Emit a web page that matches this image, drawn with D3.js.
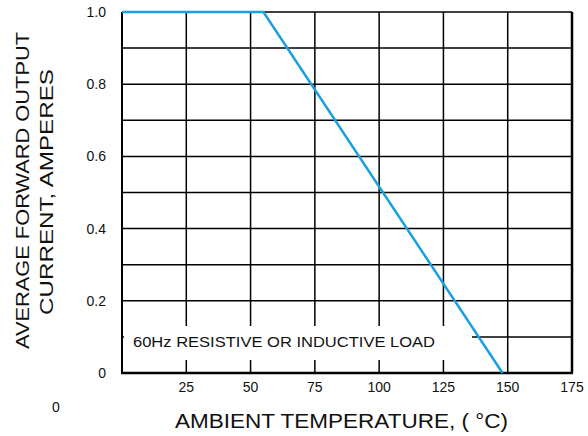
<!DOCTYPE html>
<html>
<head>
<meta charset="utf-8">
<script src="https://cdn.jsdelivr.net/npm/d3@7"></script>
<style>
  body { margin: 0; background: #fff; }
  svg text { font-family: "Liberation Sans", Arial, sans-serif; fill: #111; }
</style>
</head>
<body>
<svg id="chart" width="588" height="436"></svg>
<script>
// derating curve
var tempPts = [0, 55, 148];
var currentPts = [1.0, 1.0, 0.0];
var xTicks = [25, 50, 75, 100, 125, 150, 175];
var yTicks = [0, 0.2, 0.4, 0.6, 0.8, 1.0];
var yGrid = [0.1, 0.2, 0.3, 0.4, 0.5, 0.6, 0.7, 0.8, 0.9, 1.0];
var noteText = "60Hz RESISTIVE OR INDUCTIVE LOAD";

var svg = d3.select("#chart");
var x = d3.scaleLinear().domain([0, 175]).range([122, 572]);
var y = d3.scaleLinear().domain([0, 1.0]).range([373, 12]);

// grid
var grid = svg.append("g");
grid.selectAll("line.v").data(xTicks).enter().append("line")
    .attr("x1", d => x(d)).attr("x2", d => x(d))
    .attr("y1", y(1)).attr("y2", y(0))
    .attr("stroke", "#000").attr("stroke-width", d => d == 175 ? 2.5 : 1.5);
grid.selectAll("line.h").data(yGrid).enter().append("line")
    .attr("x1", x(0)).attr("x2", x(175))
    .attr("y1", d => y(d)).attr("y2", d => y(d))
    .attr("stroke", "#000").attr("stroke-width", 1.5);
// left + bottom frame
svg.append("line").attr("x1", x(0)).attr("x2", x(0)).attr("y1", y(1)).attr("y2", y(0))
    .attr("stroke", "#000").attr("stroke-width", 2);
svg.append("line").attr("x1", x(0) - 1).attr("x2", x(175) + 1).attr("y1", y(0)).attr("y2", y(0))
    .attr("stroke", "#000").attr("stroke-width", 2.5);

// note box, white background hides the grid behind it
svg.append("rect").attr("x", x(0) + 2).attr("y", 326)
    .attr("width", 472 - x(0) - 2).attr("height", 34).attr("fill", "#fff");
svg.append("text").attr("x", 133).attr("y", 347)
    .attr("font-size", 14).attr("textLength", 302).attr("lengthAdjust", "spacingAndGlyphs")
    .text(noteText);

// curve
var line = d3.line().x(d => x(d[0])).y(d => y(d[1]));
svg.append("path")
    .datum(tempPts.map((t, i) => [t, currentPts[i]]))
    .attr("d", line).attr("fill", "none")
    .attr("stroke", "#1a9fe0").attr("stroke-width", 2.5);

// tick labels
svg.selectAll("text.xt").data(xTicks).enter().append("text")
    .attr("x", d => x(d)).attr("y", 392).attr("text-anchor", "middle")
    .attr("font-size", 14).text(d => d);
svg.selectAll("text.yt").data(yTicks).enter().append("text")
    .attr("x", 106).attr("y", d => y(d) + 5).attr("text-anchor", "end")
    .attr("font-size", 14).text(d => d == 0 ? "0" : d.toFixed(1));
svg.append("text").attr("x", 56).attr("y", 412).attr("text-anchor", "middle")
    .attr("font-size", 14).text("0");

// axis titles
svg.append("text").attr("x", 175).attr("y", 428)
    .attr("font-size", 19.5).attr("textLength", 333).attr("lengthAdjust", "spacingAndGlyphs")
    .text("AMBIENT TEMPERATURE, ( \u00B0C)");
var yt = svg.append("text").attr("transform", "translate(29,191) rotate(-90)")
    .attr("text-anchor", "middle").attr("font-size", 19);
yt.append("tspan").attr("x", -158).attr("y", 0)
    .attr("textLength", 317).attr("lengthAdjust", "spacingAndGlyphs")
    .attr("text-anchor", "start").text("AVERAGE FORWARD OUTPUT");
yt.append("tspan").attr("x", -124).attr("y", 24)
    .attr("textLength", 246).attr("lengthAdjust", "spacingAndGlyphs")
    .attr("text-anchor", "start").text("CURRENT, AMPERES");
</script>
</body>
</html>
